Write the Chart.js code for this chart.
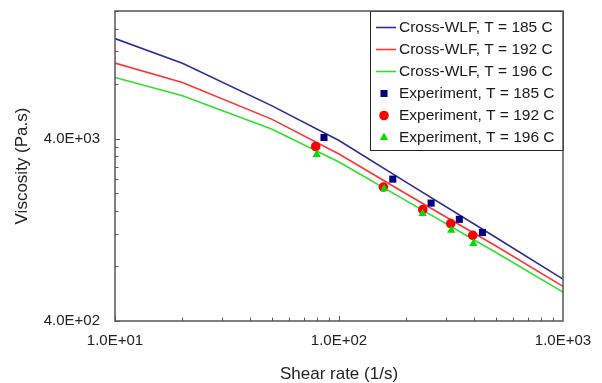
<!DOCTYPE html>
<html>
<head>
<meta charset="utf-8">
<script src="https://cdn.jsdelivr.net/npm/chart.js@4.4.1/dist/chart.umd.min.js"></script>
<style>
  html, body { margin: 0; padding: 0; background: #fff; }
</style>
</head>
<body>
<canvas id="myChart" width="602" height="383"></canvas>
<script>
(() => {
  'use strict'

  // Cross-WLF model curves
  const shearRates = [10, 20, 50, 100, 200, 500, 1000]
  const model185 = [14130, 10340, 6060, 3900, 2300, 1151, 678]
  const model192 = [10370, 8120, 5110, 3290, 1988, 1034, 619]
  const model196 = [8650, 6870, 4510, 2976, 1822, 952, 576]

  // measured points
  const exp185Rate = [85.7, 173.8, 257.8, 344.5, 436.8]
  const exp185Visc = [4050, 2397, 1771, 1443, 1221]
  const exp192Rate = [78.7, 157.8, 236.6, 315.3, 395.5]
  const exp192Visc = [3617, 2168, 1631, 1368, 1180]
  const exp196Rate = [79.5, 159, 236, 317, 398]
  const exp196Visc = [3271, 2123, 1551, 1257, 1063]

  const xTickValues = [10, 100, 1000]
  const xTickLabels = ['1.0E+01', '1.0E+02', '1.0E+03']
  const yTickValues = [400, 4000]
  const yTickLabels = ['4.0E+02', '4.0E+03']

  const FONT = '"Liberation Sans", Arial, sans-serif'
  const pts = (xs, ys) => xs.map((x, i) => ({ x, y: ys[i] }))

  const lineSet = (label, ys, color) => ({
    label,
    data: pts(shearRates, ys),
    borderColor: color,
    backgroundColor: color,
    borderWidth: 1.6,
    pointRadius: 0,
    tension: 0,
    showLine: true,
    order: 3
  })

  const markSet = (label, xs, ys, color, style, radius, order) => ({
    label,
    data: pts(xs, ys),
    showLine: false,
    pointStyle: style,
    pointRadius: radius,
    pointBackgroundColor: color,
    pointBorderColor: color,
    pointBorderWidth: 0,
    backgroundColor: color,
    borderColor: color,
    order
  })

  // boxed legend + frame + inside tick marks
  const decor = {
    id: 'decor',
    afterDatasetsDraw (chart) {
      const { ctx, chartArea: a } = chart
      const xs = chart.scales.x
      const ys = chart.scales.y
      ctx.save()

      // legend box
      const lx = 370
      const lh = 139
      ctx.fillStyle = '#fff'
      ctx.fillRect(lx, a.top, a.right - lx, lh)
      ctx.strokeStyle = '#222'
      ctx.lineWidth = 1
      ctx.strokeRect(lx + 0.5, a.top + 0.5, a.right - lx, lh)
      ctx.font = '15.5px ' + FONT
      ctx.textBaseline = 'middle'
      chart.data.datasets.forEach((ds, i) => {
        const y = a.top + 16.5 + i * 22
        if (ds.showLine) {
          ctx.strokeStyle = ds.borderColor
          ctx.lineWidth = ds.borderWidth
          ctx.beginPath()
          ctx.moveTo(lx + 6, y)
          ctx.lineTo(lx + 26, y)
          ctx.stroke()
        } else {
          ctx.fillStyle = ds.pointBackgroundColor
          Chart.helpers.drawPoint(ctx, { pointStyle: ds.pointStyle, radius: ds.pointRadius, borderWidth: 0, rotation: 0 }, lx + 14, y)
        }
        ctx.fillStyle = '#1a1a1a'
        ctx.fillText(ds.label, lx + 29, y)
      })

      // tick marks pointing inward
      ctx.strokeStyle = '#555'
      ctx.lineWidth = 1
      ctx.beginPath()
      for (let d = 10; d < 1000; d *= 10) {
        for (let k = 1; k <= 9; k++) {
          const px = Math.round(xs.getPixelForValue(k * d)) + 0.5
          const len = k === 1 ? 5 : 3.5
          ctx.moveTo(px, a.bottom)
          ctx.lineTo(px, a.bottom - len)
        }
      }
      for (let v = 400; v <= 20000; v += v < 4000 ? 400 : 4000) {
        const py = Math.round(ys.getPixelForValue(v)) + 0.5
        const len = yTickValues.includes(v) ? 5 : 3.5
        ctx.moveTo(a.left, py)
        ctx.lineTo(a.left + len, py)
      }
      ctx.stroke()

      // plot frame
      ctx.strokeStyle = '#555'
      ctx.lineWidth = 1.5
      ctx.strokeRect(a.left, a.top, a.right - a.left, a.bottom - a.top)
      ctx.restore()
    }
  }

  const ctx = document.getElementById('myChart')
  const myChart = new Chart(ctx, {
    type: 'scatter',
    data: {
      datasets: [
        lineSet('Cross-WLF, T = 185 C', model185, '#2c2c96'),
        lineSet('Cross-WLF, T = 192 C', model192, '#ff3434'),
        lineSet('Cross-WLF, T = 196 C', model196, '#30e030'),
        markSet('Experiment, T = 185 C', exp185Rate, exp185Visc, '#000080', 'rect', 5, 1),
        markSet('Experiment, T = 192 C', exp192Rate, exp192Visc, '#ff0000', 'circle', 4.8, 2),
        markSet('Experiment, T = 196 C', exp196Rate, exp196Visc, '#00e000', 'triangle', 4.8, 0)
      ]
    },
    options: {
      responsive: false,
      animation: false,
      layout: {
        padding: { top: 11, right: 39, left: 0, bottom: 0 }
      },
      plugins: {
        legend: { display: false },
        tooltip: { enabled: false }
      },
      scales: {
        x: {
          type: 'logarithmic',
          position: 'bottom',
          min: 10,
          max: 1000,
          afterFit: (s) => {
            s.height = 62
            s.paddingLeft = 0
            s.paddingRight = 0
          },
          afterBuildTicks: (s) => { s.ticks = xTickValues.map(v => ({ value: v })) },
          grid: { display: false, drawTicks: false },
          border: { display: false },
          ticks: {
            autoSkip: false,
            maxRotation: 0,
            padding: 11,
            color: '#222',
            font: { family: FONT, size: 15 },
            callback: (v) => xTickLabels[xTickValues.indexOf(v)] ?? ''
          },
          title: {
            display: true,
            text: 'Shear rate (1/s)',
            color: '#222',
            padding: { top: 0, bottom: 0 },
            font: { family: FONT, size: 17, lineHeight: 1 }
          }
        },
        y: {
          type: 'logarithmic',
          position: 'left',
          min: 400,
          max: 20000,
          afterFit: (s) => {
            s.width = 115
            s.paddingTop = 0
            s.paddingBottom = 0
          },
          afterBuildTicks: (s) => { s.ticks = yTickValues.map(v => ({ value: v })) },
          grid: { display: false, drawTicks: false },
          border: { display: false },
          ticks: {
            autoSkip: false,
            padding: 15,
            color: '#222',
            font: { family: FONT, size: 15 },
            callback: (v) => yTickLabels[yTickValues.indexOf(v)] ?? ''
          },
          title: {
            display: true,
            text: 'Viscosity (Pa.s)',
            color: '#222',
            padding: { top: 12, bottom: 0 },
            font: { family: FONT, size: 17, lineHeight: 1.2 }
          }
        }
      }
    },
    plugins: [decor]
  })
})()
</script>
</body>
</html>
